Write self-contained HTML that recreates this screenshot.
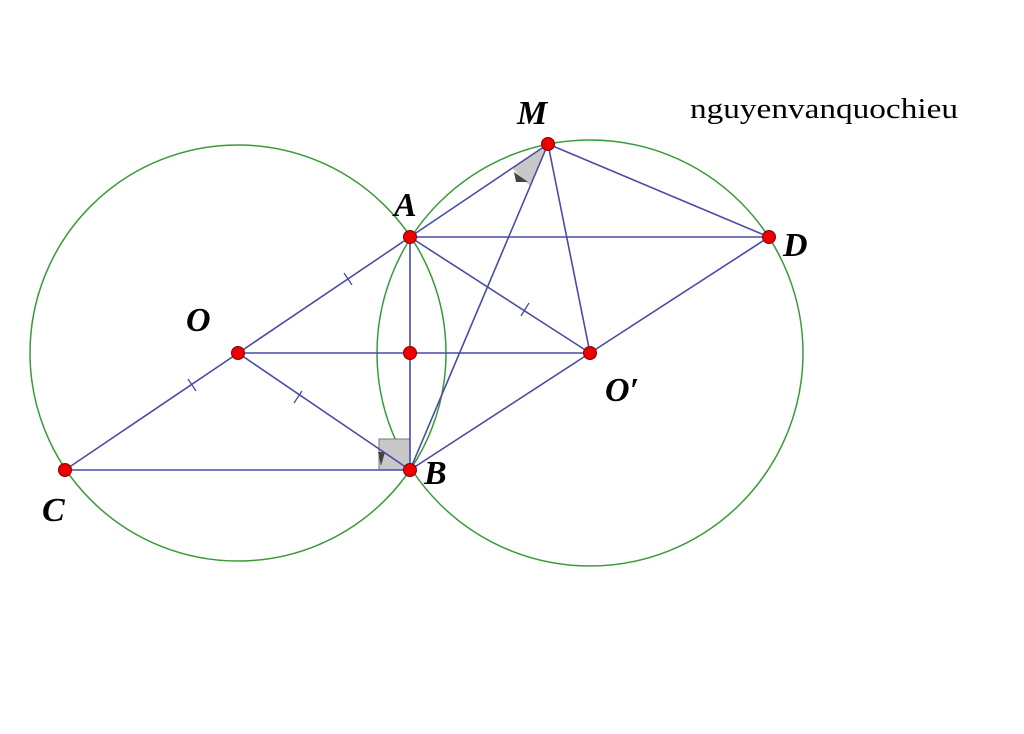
<!DOCTYPE html>
<html><head><style>body{margin:0;background:#fff}</style></head><body>
<svg width="1024" height="729" xmlns="http://www.w3.org/2000/svg">
<rect width="1024" height="729" fill="#fff"/>
<circle cx="238" cy="353" r="208" fill="none" stroke="#3a9a3a" stroke-width="1.5"/>
<circle cx="590" cy="353" r="213" fill="none" stroke="#3a9a3a" stroke-width="1.5"/>
<rect x="379" y="439" width="31" height="31" fill="#c8c8c8" stroke="#777" stroke-width="1"/>
<path d="M548,144 L512,168 L530,186 Z" fill="#c8c8c8"/>
<path d="M378,452 l3,14 l4,-14 z M514,172 l14,10 l-12,0 z" fill="#444"/>
<g stroke="#4a4aa8" stroke-width="1.6" fill="none">
<line x1="410" y1="237" x2="65" y2="470"/>
<line x1="65" y1="470" x2="410" y2="470"/>
<line x1="238" y1="353" x2="410" y2="470"/>
<line x1="238" y1="353" x2="590" y2="353"/>
<line x1="410" y1="237" x2="410" y2="470"/>
<line x1="410" y1="237" x2="769" y2="237"/>
<line x1="410" y1="237" x2="590" y2="353"/>
<line x1="410" y1="237" x2="548" y2="144"/>
<line x1="548" y1="144" x2="769" y2="237"/>
<line x1="548" y1="144" x2="410" y2="470"/>
<line x1="548" y1="144" x2="590" y2="353"/>
<line x1="590" y1="353" x2="410" y2="470"/>
<line x1="590" y1="353" x2="769" y2="237"/>
</g>
<g stroke="#4a4aa8" stroke-width="1.3">
<line x1="344" y1="273" x2="352" y2="285"/>
<line x1="188" y1="379" x2="196" y2="391"/>
<line x1="302" y1="391" x2="294" y2="403"/>
<line x1="521" y1="316" x2="529" y2="303"/>
</g>
<g fill="#ee0000" stroke="#800" stroke-width="1">
<circle cx="410" cy="237" r="6.5"/><circle cx="410" cy="470" r="6.5"/>
<circle cx="65" cy="470" r="6.5"/><circle cx="238" cy="353" r="6.5"/>
<circle cx="410" cy="353" r="6.5"/><circle cx="590" cy="353" r="6.5"/>
<circle cx="769" cy="237" r="6.5"/><circle cx="548" cy="144" r="6.5"/>
</g>
<g font-family="Liberation Serif, serif" font-weight="bold" font-style="italic" font-size="34" fill="#000">
<text x="517" y="124">M</text><text x="394" y="216">A</text><text x="783" y="256">D</text>
<text x="186" y="331">O</text><text x="605" y="401">O′</text><text x="424" y="484">B</text>
<text x="42" y="521">C</text>
</g>
<text x="690" y="118" font-family="Liberation Serif, serif" font-size="28" textLength="268" lengthAdjust="spacingAndGlyphs" fill="#000">nguyenvanquochieu</text>
</svg>
</body></html>
